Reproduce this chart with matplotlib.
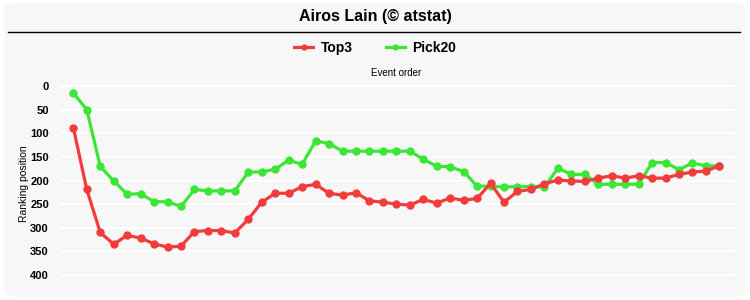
import matplotlib
matplotlib.use("Agg")
import matplotlib.pyplot as plt
from matplotlib.patches import FancyBboxPatch
from matplotlib.lines import Line2D

plt.rcParams['font.family'] = ['Liberation Sans', 'DejaVu Sans']

# ranking position per event (lower is better)
top3 = [88, 219, 310, 335, 316, 322, 334, 341, 339, 308,
        306, 306, 311, 282, 246, 227, 227, 213, 208, 227,
        231, 226, 243, 246, 250, 252, 240, 248, 237, 242,
        238, 206, 246, 223, 219, 207, 199, 201, 202, 195,
        190, 195, 190, 195, 195, 187, 182, 180, 169]
pick20 = [15, 50, 170, 201, 229, 228, 245, 245, 255, 219,
          222, 222, 222, 182, 182, 176, 157, 166, 116, 122,
          138, 138, 138, 138, 138, 138, 155, 170, 171, 181,
          212, 212, 214, 213, 213, 214, 174, 187, 187, 208,
          208, 208, 208, 162, 162, 177, 163, 169, 169]
yticks = [0, 50, 100, 150, 200, 250, 300, 350, 400]

events = list(range(len(top3)))

red = '#f23b3b'
green = '#3ce636'

fig = plt.figure(figsize=(7.5, 3), dpi=100, facecolor='white')

# rounded light panel behind everything
panel = FancyBboxPatch((0.006, 0.01), 0.988, 0.98,
                       boxstyle="round,pad=0,rounding_size=0.02",
                       transform=fig.transFigure, facecolor='#f7f7f7',
                       edgecolor='none', zorder=-10)
fig.patches.append(panel)

fig.text(0.5, 1 - 17 / 300, 'Airos Lain (© atstat)', ha='center', va='center',
         fontsize=11.5, fontweight='bold')
fig.add_artist(Line2D([8 / 750, 740 / 750], [1 - 32 / 300, 1 - 32 / 300],
                      transform=fig.transFigure, color='black', lw=1))

ax = fig.add_axes([60 / 750, 12 / 300, 675 / 750, 208 / 300])
ax.set_facecolor('none')
ax.set_zorder(1)

ax.plot(events, pick20, color=green, lw=2.3, marker='o', markersize=5,
        label='Pick20', zorder=3)
ax.plot(events, top3, color=red, lw=2.3, marker='o', markersize=5,
        label='Top3', zorder=4)

ax.set_xlim(-0.99, 49.16)
ax.set_ylim(427.5, -12.7)
ax.set_yticks(yticks)
ax.set_yticklabels([str(v) for v in yticks], fontsize=8, fontweight='bold')
ax.tick_params(axis='y', length=0, pad=8)
ax.set_xticks([])
ax.grid(axis='y', color='white', lw=1.5)
ax.set_axisbelow(True)
for s in ax.spines.values():
    s.set_visible(False)

ax.set_ylabel('Ranking position', fontsize=7.5, labelpad=1)
fig.text(396 / 750, 1 - 73 / 300, 'Event order', ha='center', va='center',
         fontsize=7)

handles, labels = ax.get_legend_handles_labels()
fig.legend(handles[::-1], labels[::-1], loc='center',
           bbox_to_anchor=(375 / 750, 1 - 48 / 300), ncol=2, frameon=False,
           prop={'weight': 'bold', 'size': 10}, handlelength=1.4,
           columnspacing=2.4, handletextpad=0.5, markerscale=0.7)

fig.savefig('out.png', dpi=100, facecolor='white')
